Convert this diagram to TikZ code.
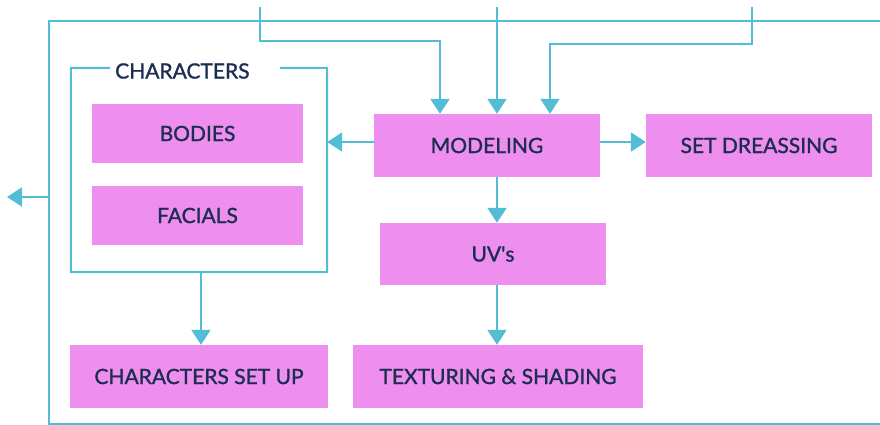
\documentclass[tikz,border=0pt]{standalone}
\usepackage{fontspec}
\setmainfont{Lato}
\newfontfamily\stagefont{Lato}[FakeBold=1.2]
\usetikzlibrary{arrows.meta}
\definecolor{boxpink}{HTML}{EE8EEE}
\definecolor{flowline}{HTML}{52BDD5}
\definecolor{labelink}{HTML}{1C2D50}
\begin{document}
\begin{tikzpicture}[x=1pt,y=-1pt,
  labelfont/.style={text=labelink,font=\stagefont\fontsize{21}{24}\selectfont},
  stage/.style={fill=boxpink,inner sep=0pt,labelfont},
  flow/.style={draw=flowline,line width=2pt},
  flowarrow/.style={flow,-{Triangle[length=15pt,width=19pt]}}]
\useasboundingbox (0,0) rectangle (880,424);

% outer frame, open to the right
\draw[flow] (885,21) -- (49,21) -- (49,423.5) -- (885,423.5);

% group frame around the character boxes
\node[minimum width=256pt,minimum height=204pt,inner sep=0pt] (chars) at (199,170) {};
\coordinate (gapL) at (110,68);
\coordinate (gapR) at (280,68);
\draw[flow] (gapL) -- (chars.north west) -- (chars.south west)
  -- (chars.south east) -- (chars.north east) -- (gapR);
\node[labelfont,inner sep=0pt,anchor=west] (charstitle) at (115,71) {CHARACTERS};

% boxes
\node[stage,minimum width=211pt,minimum height=59pt] (bodies) at (197.5,133.5) {BODIES};
\node[stage,minimum width=211pt,minimum height=59pt] (facials) at (197.5,215.5) {FACIALS};
\node[stage,minimum width=226pt,minimum height=63pt] (model) at (487,145.5) {MODELING};
\node[stage,minimum width=226pt,minimum height=63pt] (setd) at (759,145.5) {SET DREASSING};
\node[stage,minimum width=226pt,minimum height=62pt] (uv) at (493,254) {UV\textquotesingle s};
\node[stage,minimum width=290pt,minimum height=63pt] (tex) at (498,376.5) {TEXTURING \& SHADING};
\node[stage,minimum width=258pt,minimum height=63pt] (csu) at (199,376.5) {CHARACTERS SET UP};

% incoming lines from above
\coordinate (in1) at (260,7);
\coordinate (in2) at (497,7);
\coordinate (in3) at (752,7);
\coordinate (bend1) at (260,41);
\coordinate (bend3) at (752,44);
\draw[flowarrow] (in1) -- (bend1) -| ([xshift=-47pt]model.north);
\draw[flowarrow] (in2) -- (in2 |- model.north);
\draw[flowarrow] (in3) -- (bend3) -| ([xshift=63pt]model.north);

% flow between stages
\draw[flowarrow] ([yshift=3.5pt]model.west) -- ([yshift=3.5pt]model.west -| chars.east);
\draw[flowarrow] ([yshift=3.5pt]model.east) -- ([yshift=3.5pt]setd.west);
\draw[flowarrow] (in2 |- model.south) -- (in2 |- uv.north);
\draw[flowarrow] (in2 |- uv.south) -- (in2 |- tex.north);
\draw[flowarrow] ([xshift=2pt]chars.south) -- ([xshift=2pt]csu.north);

% output to the left
\coordinate (out) at (7,197);
\draw[flowarrow] (49,197) -- (out);
\end{tikzpicture}
\end{document}
